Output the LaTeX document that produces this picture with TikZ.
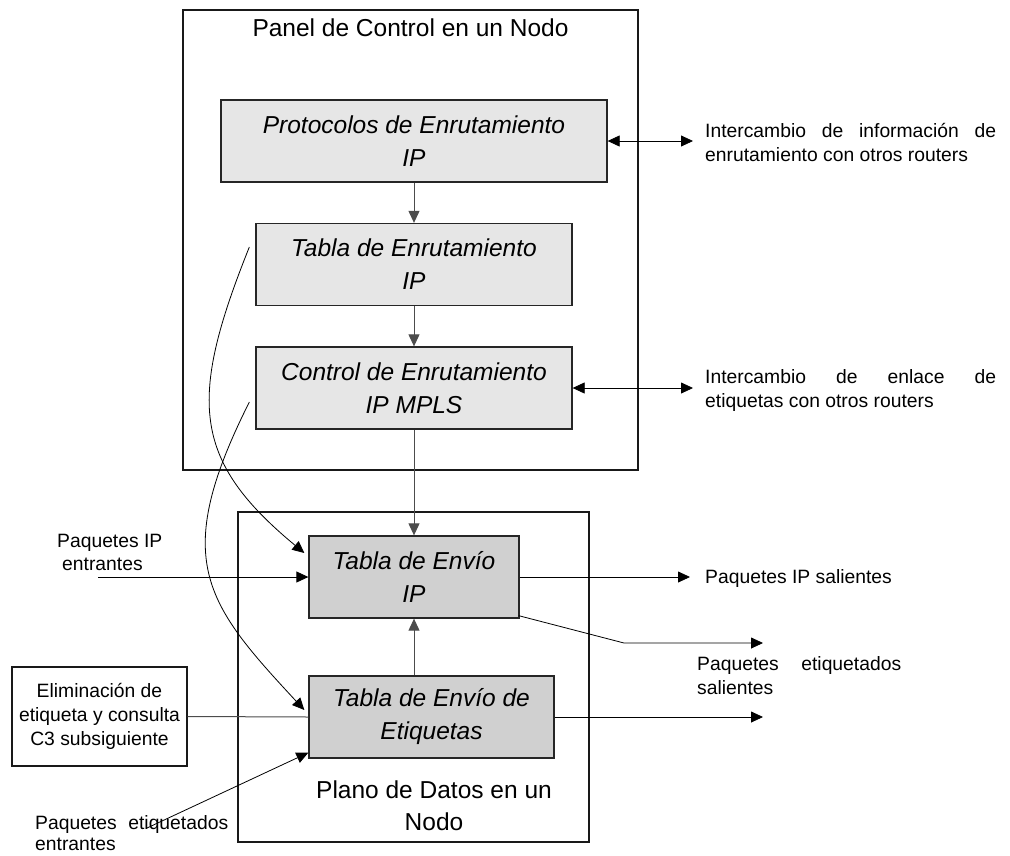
\documentclass[tikz,border=0pt]{standalone}
\usepackage{fontspec}
\setmainfont{Liberation Sans}
\usetikzlibrary{arrows.meta,calc}
\newcommand\lftlines[1]{\vtop{\halign{##\hfil\cr#1\crcr}}}
\newcommand\ctrlines[1]{\vtop{\halign{\hfil##\hfil\cr#1\crcr}}}
\definecolor{boxA}{RGB}{230,230,230}
\definecolor{boxB}{RGB}{208,208,208}
\begin{document}
\begin{tikzpicture}[x=1pt,y=-1pt,
  bigtxt/.style={font=\fontsize{24.5}{32}\selectfont},
  smalltxt/.style={font=\fontsize{19.3}{24.5}\selectfont},
  frame/.style={draw=black!90,line width=1.4pt,inner sep=0pt},
  cbox/.style={draw=black!85,line width=1.3pt,fill=boxA,minimum height=82pt,inner sep=0pt,align=center,font=\fontsize{24.5}{33}\selectfont\itshape},
  dbox/.style={cbox,fill=boxB},
  tip/.style={-{Triangle[length=12pt,width=11pt]}},
  dtip/.style={{Triangle[length=12pt,width=11pt]}-{Triangle[length=12pt,width=11pt]}},
  conn/.style={line width=1pt,draw=black!70},
  curve/.style={line width=0.8pt,draw=black}
]
\useasboundingbox (0,0) rectangle (1010,855);
% frames
\node[frame,minimum width=455pt,minimum height=460pt] (panel) at (410.5,240) {};
\node[frame,minimum width=351pt,minimum height=330pt] (plano) at (413.5,677) {};
\node[bigtxt,anchor=base] (ptitle) at (410.5,36) {Panel de Control en un Nodo};
\node[bigtxt,anchor=base,inner sep=0pt] (dtitle) at (434,798) {\ctrlines{Plano de Datos en un\cr Nodo}};
% boxes
\node[cbox,minimum width=386pt] (prot) at (414,141) {Protocolos de Enrutamiento\\IP};
\node[cbox,minimum width=316pt] (tenr) at (414,264.5) {Tabla de Enrutamiento\\IP};
\node[cbox,minimum width=316pt] (ctrl) at (414,388) {Control de Enrutamiento\\IP MPLS};
\node[dbox,minimum width=210pt] (tip) at (414,577) {Tabla de Envío\\IP};
\node[dbox,minimum width=245pt] (tet) at (431.5,717) {Tabla de Envío de\\Etiquetas};
\node[draw=black!90,line width=1.3pt,fill=white,minimum width=175pt,minimum height=99pt,inner sep=0pt,align=center,font=\fontsize{19.3}{24}\selectfont] (elim) at (99.5,716.5) {Eliminación de\\etiqueta y consulta\\C3 subsiguiente};
% outside texts
\node[smalltxt,anchor=base west,inner sep=0pt] (t1) at (705,137) {\lftlines{\hbox to 291pt{Intercambio\hfill de\hfill información\hfill de}\cr enrutamiento con otros routers}};
\node[smalltxt,anchor=base west,inner sep=0pt] (t2) at (705,383) {\lftlines{\hbox to 291pt{Intercambio\hfill de\hfill enlace\hfill de}\cr etiquetas con otros routers}};
\node[smalltxt,anchor=base west,inner sep=0pt] (t3) at (705,583) {Paquetes IP salientes};
\node[smalltxt,anchor=base west,inner sep=0pt] (t4) at (697,670) {\lftlines{\hbox to 204pt{Paquetes\hfill etiquetados}\cr salientes}};
\node[font=\fontsize{19.3}{23}\selectfont,anchor=base west,inner sep=0pt] (t5) at (57,547) {\lftlines{Paquetes IP\cr\hspace*{5pt}entrantes}};
\node[font=\fontsize{19.3}{21}\selectfont,anchor=base west,inner sep=0pt] (t6) at (35,829) {\lftlines{\hbox to 193pt{Paquetes\hfill etiquetados}\cr entrantes}};
% coordinates
\coordinate (o1) at (693,141);
\coordinate (o2) at (693,388);
\coordinate (i1) at (98,577);
\coordinate (o3) at (690,577);
\coordinate (b1) at (624,643);
\coordinate (o4) at (763,643);
\coordinate (o5) at (763,717);
\coordinate (i2) at (147,828);
% connectors
\draw[conn,tip] (prot.south) -- (tenr.north);
\draw[conn,tip] (tenr.south) -- (ctrl.north);
\draw[conn,tip] (ctrl.south) -- (tip.north);
\draw[conn,tip] (tip.south |- tet.north) -- (tip.south);
\draw[curve,dtip] (prot.east) -- (o1);
\draw[curve,dtip] (ctrl.east) -- (o2);
\draw[curve,tip] (i1) -- (tip.west);
\draw[conn] (elim.east) -- (tet.west);
\draw[curve,tip] (tip.east) -- (o3);
\draw[curve,tip] ($(tip.south east)+(-1,-3)$) -- (b1) -- (o4);
\draw[curve,tip] (tet.east) -- (o5);
\draw[curve,tip] (i2) -- ($(tet.south west)+(0,-6)$);
\draw[curve,tip] ($(tenr.west)+(-6,-17.5)$) .. controls (188,400) and (192,460) .. ($(tip.west)+(-4,-24)$);
\draw[curve,tip] ($(ctrl.west)+(-6,14)$) .. controls (170,560) and (205,603) .. ($(tet.west)+(-4,-7)$);
\end{tikzpicture}
\end{document}
